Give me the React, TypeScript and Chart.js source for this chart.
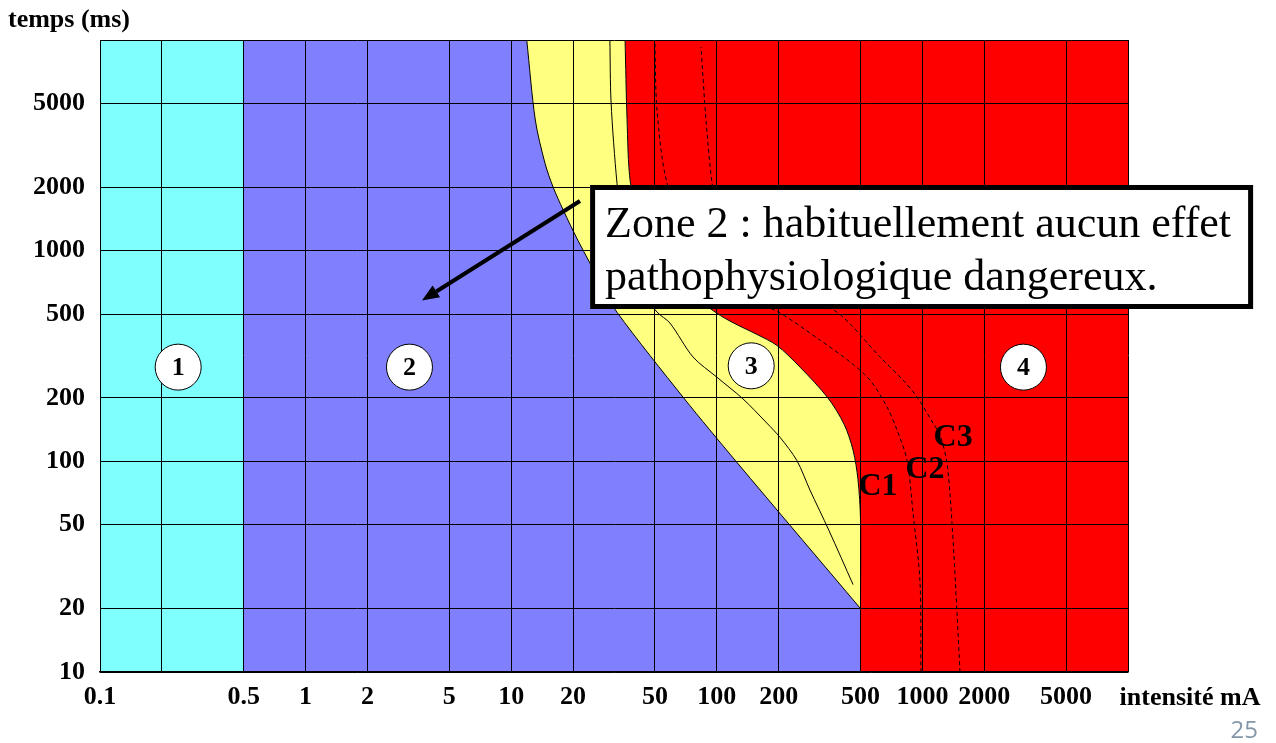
import React, { useEffect, useRef } from 'react';
import { Chart, registerables } from 'chart.js';

Chart.register(...registerables);

// ---- Data: current (mA) against duration (ms), listed from short to long durations ----

// Curve c1: limit between zone 3 and zone 4
const c1Current = [500, 500, 500, 486, 460, 416, 347, 254, 196, 157, 120, 100, 74, 54, 42, 38, 36.6, 35.8];
const c1Time = [10, 20, 53, 82, 113, 150, 200, 280, 355, 400, 455, 505, 635, 950, 1550, 2100, 4200, 10000];

// Curve b: limit between zone 2 and zone 3
const bCurrent = [500, 124, 69, 32.7, 28, 21.1, 17.9, 16, 14.6, 13.1, 11.9];
const bTime = [20, 100, 200, 510, 670, 1120, 1560, 2000, 2600, 4170, 10000];

// Thin line running inside zone 3
const innerCurrent = [460, 351, 284, 245, 203, 175, 134, 100, 76.6, 59.2, 51.2, 44.8, 38.7, 34.6, 32.7, 30.6, 30.2];
const innerTime = [26, 47, 73, 101, 130, 152, 198, 251, 313, 453, 511, 616, 903, 1400, 2090, 5070, 10000];

// Curves c2 and c3 (dashed) inside zone 4
const c2Current = [984, 973, 900, 842, 752, 673, 556, 445, 318, 203, 137, 95, 72, 57.3, 51.2, 50];
const c2Time = [10, 27, 57, 101, 141, 181, 243, 296, 376, 506, 609, 855, 1320, 2090, 4650, 9700];
const c3Current = [1524, 1474, 1393, 1317, 1218, 1126, 941, 805, 622, 384, 254, 172, 123, 101, 94.8, 88.6, 83.8];
const c3Time = [10, 19, 51, 98, 133, 152, 202, 243, 313, 511, 596, 710, 1030, 1560, 2090, 4170, 9250];

// Zone 1 upper current and the short-duration strip of zone 2
const zone1Current = [0.5, 0.5];
const zone1Time = [10, 10000];
const stripCurrent = [500, 500];
const stripTime = [10, 20];

// Axis ticks
const xTicks = [0.1, 0.2, 0.5, 1, 2, 5, 10, 20, 50, 100, 200, 500, 1000, 2000, 5000, 10000];
const xTickLabels = ['0.1', '', '0.5', '1', '2', '5', '10', '20', '50', '100', '200', '500', '1000', '2000', '5000', ''];
const yTicks = [10, 20, 50, 100, 200, 500, 1000, 2000, 5000, 10000];
const yTickLabels = ['10', '20', '50', '100', '200', '500', '1000', '2000', '5000', ''];

// Zone markers and curve names
const zoneNames = ['1', '2', '3', '4'];
const zoneCurrent = [0.24, 3.2, 147, 3100];
const zoneTime = [280, 280, 284, 280];
const curveNames = ['C1', 'C2', 'C3'];
const curveNameCurrent = [608, 1030, 1410];
const curveNameTime = [76, 91, 130];

// Note box and arrow
const noteLines = ['Zone 2 : habituellement aucun effet', 'pathophysiologique dangereux.'];
const noteAnchor = { current: 24.2, time: 2050 };
const arrowFrom = { current: 21.6, time: 1720 };
const arrowTo = { current: 3.68, time: 580 };

const CYAN = '#80FFFF';
const BLUE = '#8080FF';
const YELLOW = '#FFFF80';
const RED = '#FF0000';
const SERIF = '"Liberation Serif", "Times New Roman", serif';

const pts = (xs: number[], ys: number[]) => xs.map((x, i) => ({ x, y: ys[i] }));

const labelFor = (values: number[], labels: string[]) => (v: number | string) => {
  const n = Number(v);
  const i = values.findIndex((t) => Math.abs(t - n) / t < 1e-6);
  return i >= 0 ? labels[i] : '';
};

const annotationsPlugin = {
  id: 'zoneAnnotations',
  afterDraw(chart: any) {
    const { ctx, chartArea } = chart;
    const x = chart.scales.x;
    const y = chart.scales.y;
    ctx.save();

    // zone markers
    zoneNames.forEach((name, i) => {
      const px = x.getPixelForValue(zoneCurrent[i]);
      const py = y.getPixelForValue(zoneTime[i]);
      ctx.beginPath();
      ctx.arc(px, py, 23, 0, Math.PI * 2);
      ctx.fillStyle = '#ffffff';
      ctx.fill();
      ctx.lineWidth = 1;
      ctx.strokeStyle = '#000';
      ctx.stroke();
      ctx.fillStyle = '#000';
      ctx.font = `bold 26px ${SERIF}`;
      ctx.textAlign = 'center';
      ctx.textBaseline = 'middle';
      ctx.fillText(name, px, py + 1);
    });

    // curve names
    ctx.font = `bold 32px ${SERIF}`;
    ctx.fillStyle = '#000';
    ctx.textAlign = 'center';
    ctx.textBaseline = 'middle';
    curveNames.forEach((name, i) => {
      ctx.fillText(name, x.getPixelForValue(curveNameCurrent[i]), y.getPixelForValue(curveNameTime[i]));
    });

    // arrow
    const ax0 = x.getPixelForValue(arrowFrom.current);
    const ay0 = y.getPixelForValue(arrowFrom.time);
    const ax1 = x.getPixelForValue(arrowTo.current);
    const ay1 = y.getPixelForValue(arrowTo.time);
    const ang = Math.atan2(ay1 - ay0, ax1 - ax0);
    const headLen = 17;
    const headHalf = 7;
    const bx = ax1 - headLen * Math.cos(ang);
    const by = ay1 - headLen * Math.sin(ang);
    ctx.strokeStyle = '#000';
    ctx.lineWidth = 4;
    ctx.beginPath();
    ctx.moveTo(ax0, ay0);
    ctx.lineTo(bx, by);
    ctx.stroke();
    ctx.beginPath();
    ctx.moveTo(ax1, ay1);
    ctx.lineTo(bx + headHalf * Math.sin(ang), by - headHalf * Math.cos(ang));
    ctx.lineTo(bx - headHalf * Math.sin(ang), by + headHalf * Math.cos(ang));
    ctx.closePath();
    ctx.fillStyle = '#000';
    ctx.fill();

    // note box
    const bxl = x.getPixelForValue(noteAnchor.current);
    const byt = y.getPixelForValue(noteAnchor.time);
    const bw = 663;
    const bh = 124;
    const lw = 5;
    ctx.fillStyle = '#ffffff';
    ctx.fillRect(bxl, byt, bw, bh);
    ctx.lineWidth = lw;
    ctx.strokeStyle = '#000';
    ctx.strokeRect(bxl + lw / 2, byt + lw / 2, bw - lw, bh - lw);
    ctx.fillStyle = '#000';
    ctx.font = `44px ${SERIF}`;
    ctx.textAlign = 'left';
    ctx.textBaseline = 'alphabetic';
    ctx.fillText(noteLines[0], bxl + 15, byt + 52);
    ctx.fillText(noteLines[1], bxl + 15, byt + 105);

    // axis captions
    ctx.font = `bold 26px ${SERIF}`;
    ctx.textAlign = 'left';
    ctx.fillText('temps (ms)', 8, chartArea.top - 13);
    ctx.textAlign = 'center';
    ctx.textBaseline = 'middle';
    ctx.fillText('intensité mA', chartArea.right + 62, chartArea.bottom + 26);

    // page number
    ctx.font = '24px "Open Sans", "Liberation Sans", sans-serif';
    ctx.fillStyle = '#8497A8';
    ctx.textAlign = 'right';
    ctx.textBaseline = 'middle';
    ctx.fillText('25', 1258, 731);

    ctx.restore();
  },
};

export default function App() {
  const canvasRef = useRef<HTMLCanvasElement | null>(null);

  useEffect(() => {
    const canvas = canvasRef.current;
    if (!canvas) return;

    const base = { pointRadius: 0, pointHoverRadius: 0, tension: 0.3 };

    const chart = new Chart(canvas, {
      type: 'line',
      data: {
        datasets: [
          {
            ...base,
            label: 'C3',
            data: pts(c3Current, c3Time),
            borderColor: '#000',
            borderWidth: 1,
            borderDash: [4, 3],
            fill: false,
          },
          {
            ...base,
            label: 'C2',
            data: pts(c2Current, c2Time),
            borderColor: '#000',
            borderWidth: 1,
            borderDash: [4, 3],
            fill: false,
          },
          {
            ...base,
            label: 'zone 3 inner',
            data: pts(innerCurrent, innerTime),
            borderColor: '#000',
            borderWidth: 1,
            fill: false,
          },
          {
            ...base,
            label: 'zone 1',
            data: pts(zone1Current, zone1Time),
            borderWidth: 0,
            borderColor: 'rgba(0,0,0,0)',
            backgroundColor: CYAN,
            fill: { value: 0.1 },
            tension: 0,
          },
          {
            ...base,
            label: 'zone 2 strip',
            data: pts(stripCurrent, stripTime),
            borderWidth: 0,
            borderColor: 'rgba(0,0,0,0)',
            backgroundColor: BLUE,
            fill: { value: 0.1 },
            tension: 0,
          },
          {
            ...base,
            label: 'zone 2',
            data: pts(bCurrent, bTime),
            borderColor: '#000',
            borderWidth: 1,
            backgroundColor: BLUE,
            fill: { value: 0.1 },
          },
          {
            ...base,
            label: 'zone 3',
            data: pts(c1Current, c1Time),
            borderColor: '#000',
            borderWidth: 1,
            backgroundColor: YELLOW,
            fill: { value: 0.1 },
          },
          {
            ...base,
            label: 'zone 4',
            data: pts(c1Current, c1Time),
            borderWidth: 0,
            borderColor: 'rgba(0,0,0,0)',
            backgroundColor: RED,
            fill: { value: 10000 },
          },
        ],
      },
      options: {
        indexAxis: 'y',
        responsive: false,
        animation: false,
        devicePixelRatio: 1,
        layout: { padding: { top: 40, right: 148, left: 0, bottom: 0 } },
        plugins: {
          legend: { display: false },
          tooltip: { enabled: false },
          title: { display: false },
        },
        events: [],
        scales: {
          x: {
            type: 'logarithmic',
            position: 'bottom',
            min: 0.1,
            max: 10000,
            afterBuildTicks: (scale: any) => {
              scale.ticks = xTicks.map((v) => ({ value: v }));
            },
            afterFit: (scale: any) => {
              scale.height = 71;
            },
            grid: { color: '#000', lineWidth: 1, drawTicks: false, z: 1 },
            border: { display: true, color: '#000', width: 1.5, z: 1 },
            ticks: {
              autoSkip: false,
              maxRotation: 0,
              minRotation: 0,
              padding: 10,
              color: '#000',
              font: { family: SERIF, size: 26, weight: 'bold' },
              callback: labelFor(xTicks, xTickLabels),
            },
          },
          y: {
            type: 'logarithmic',
            position: 'left',
            min: 10,
            max: 10000,
            afterBuildTicks: (scale: any) => {
              scale.ticks = yTicks.map((v) => ({ value: v }));
            },
            afterFit: (scale: any) => {
              scale.width = 100;
            },
            grid: { color: '#000', lineWidth: 1, drawTicks: false, z: 1 },
            border: { display: true, color: '#000', width: 1, z: 1 },
            ticks: {
              autoSkip: false,
              padding: 15,
              color: '#000',
              font: { family: SERIF, size: 26, weight: 'bold' },
              callback: labelFor(yTicks, yTickLabels),
            },
          },
        },
      } as any,
      plugins: [annotationsPlugin],
    });

    return () => chart.destroy();
  }, []);

  return (
    <div style={{ position: 'fixed', left: 0, top: 0, width: 1276, height: 743, background: '#ffffff' }}>
      <canvas ref={canvasRef} width={1276} height={743} style={{ display: 'block' }} />
    </div>
  );
}
